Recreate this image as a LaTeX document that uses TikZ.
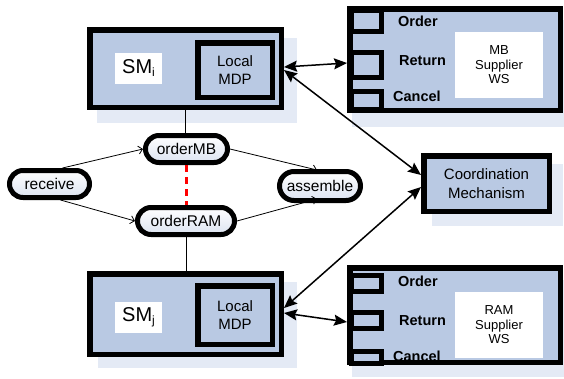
\documentclass[tikz,border=0pt]{standalone}
\usepackage{fontspec}
\setmainfont{Liberation Sans}
\usetikzlibrary{arrows.meta}
\definecolor{boxblue}{HTML}{B9C9E3}
\definecolor{shadowc}{HTML}{E4EAF5}
\definecolor{pillbot}{HTML}{DCE3F1}
\begin{document}
\begin{tikzpicture}[x=1pt,y=-1pt,
  box/.style={draw=black, line width=5.5pt, fill=boxblue, rectangle, inner sep=0pt},
  shadowbox/.style={fill=shadowc},
  whitelbl/.style={fill=white, draw=none, inner sep=0pt, align=center},
  port/.style={draw=black, line width=5pt, fill=boxblue},
  portlbl/.style={anchor=base west, inner sep=0pt, font=\fontsize{14.5}{17}\selectfont\bfseries},
  pill/.style={draw=black, line width=5pt, rounded corners=13.5pt, top color=white, bottom color=pillbot, minimum height=27pt, inner sep=0pt, font=\fontsize{15.5}{18}\selectfont},
  mdp/.style={box, align=center, font=\fontsize{15}{18}\selectfont},
  flow/.style={draw=black, line width=0.8pt, -{Straight Barb[length=4pt,width=8pt]}},
  link/.style={draw=black, line width=1.5pt, {Stealth[length=13pt,width=11pt,inset=2pt]}-{Stealth[length=13pt,width=11pt,inset=2pt]}},
  vline/.style={draw=black, line width=0.9pt},
  conflict/.style={draw=red, line width=2.6pt, dash pattern=on 7pt off 5pt}
]
\useasboundingbox (0,0) rectangle (564,378);
% shadows
\fill[shadowbox] (97,38) rectangle (297,123);
\fill[shadowbox] (98,282) rectangle (297,368);
\fill[shadowbox] (352,20) rectangle (570,127);
\fill[shadowbox] (352,280) rectangle (570,377);
\fill[shadowbox] (432,164) rectangle (563,226);

% SM i
\node[box, minimum width=191.5pt, minimum height=77.5pt] (SMi) at (185.5,68.5) {};
\node[whitelbl, minimum width=47pt, minimum height=31pt] (SMilbl) at (138.5,68.5)
  {{\fontsize{20}{24}\selectfont SM}{\fontsize{12}{12}\selectfont\raisebox{-3pt}{i}}};
\node[mdp, minimum width=74.5pt, minimum height=54.5pt] (mdpi) at (235,70) {Local\\MDP};

% SM j
\node[box, minimum width=191.5pt, minimum height=80.5pt] (SMj) at (185.5,314) {};
\node[whitelbl, minimum width=47pt, minimum height=31pt] (SMjlbl) at (138.5,317.5)
  {{\fontsize{20}{24}\selectfont SM}{\fontsize{12}{12}\selectfont\raisebox{-3pt}{j}}};
\node[mdp, minimum width=74.5pt, minimum height=58.5pt] (mdpj) at (235,315) {Local\\MDP};

% MB supplier
\node[box, minimum width=210.5pt, minimum height=101.5pt] (MB) at (455,59.5) {};
\node[whitelbl, minimum width=88pt, minimum height=66pt, font=\fontsize{13}{14.5}\selectfont] (MBlbl) at (499,65) {MB\\Supplier\\WS};
\draw[port] (351.5,10.5) rectangle (381.5,31.5);
\draw[port] (351.5,52.5) rectangle (381.5,77.5);
\draw[port] (351.5,91.5) rectangle (381.5,109);
\node[portlbl] (MBo) at (398,26.7) {Order};
\node[portlbl] (MBr) at (399,65) {Return};
\node[portlbl] (MBc) at (393,101.5) {Cancel};

% RAM supplier
\node[box, minimum width=210.5pt, minimum height=94.5pt] (RAM) at (455,315) {};
\node[whitelbl, minimum width=88pt, minimum height=66pt, font=\fontsize{13}{14.5}\selectfont] (RAMlbl) at (499,325) {RAM\\Supplier\\WS};
\draw[port] (351.5,275) rectangle (381.5,291.5);
\draw[port] (351.5,312) rectangle (381.5,328);
\draw[port] (351.5,351.5) rectangle (381.5,363);
\node[portlbl] (RAMo) at (398,286.7) {Order};
\node[portlbl] (RAMr) at (399,325) {Return};
\node[portlbl] (RAMc) at (393,361) {Cancel};

% Coordination
\node[mdp, minimum width=125.5pt, minimum height=55.5pt, font=\fontsize{15}{19}\selectfont] (coord) at (486.5,183.5) {Coordination\\Mechanism};

% process pills
\node[pill, minimum width=80pt] (receive) at (49.5,184) {receive};
\node[pill, minimum width=82pt] (orderMB) at (186.5,149) {orderMB};
\node[pill, minimum width=97pt] (orderRAM) at (186,221) {orderRAM};
\node[pill, minimum width=81pt, minimum height=29pt, rounded corners=14.5pt] (assemble) at (320,186) {assemble};

% connectors
\draw[vline] (SMi.south) -- (SMi.south |- orderMB.north);
\draw[vline] (orderRAM.south) -- (orderRAM.south |- SMj.north);
\draw[conflict] (orderMB.south) -- (orderMB.south |- orderRAM.north);
\draw[flow] ([xshift=13pt]receive.north) -- (orderMB.west);
\draw[flow] ([xshift=11pt]receive.south) -- (orderRAM.west);
\draw[flow] (orderMB.east) -- ([xshift=-3pt,yshift=-1pt]assemble.north);
\draw[flow] (orderRAM.east) -- ([xshift=-3pt,yshift=4pt]assemble.south);

\draw[link] ([yshift=1.5pt]SMi.east) -- ([yshift=-3.5pt]MB.west);
\draw[link] ([yshift=-1.5pt]SMi.east) -- ([yshift=8.5pt]coord.west);
\draw[link] ([yshift=-3.5pt]coord.west) -- ([yshift=6pt]SMj.east);
\draw[link] ([yshift=1pt]SMj.east) -- ([yshift=-7pt]RAM.west);
\end{tikzpicture}
\end{document}
